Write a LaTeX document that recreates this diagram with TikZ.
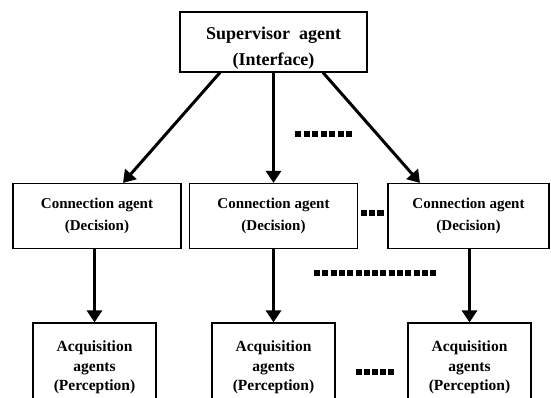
\documentclass[tikz,border=0pt]{standalone}
\usepackage{fontspec}
\setmainfont{Liberation Serif}
\usetikzlibrary{arrows.meta}
\begin{document}
\begin{tikzpicture}[x=1pt,y=-1pt,
  box/.style={draw,line width=1.1pt,rectangle,inner sep=0pt,align=center},
  connbox/.style={box,minimum width=168pt,minimum height=65pt,
    font=\bfseries\fontsize{15}{22}\selectfont},
  acqbox/.style={box,minimum width=123pt,minimum height=89pt,
    font=\bfseries\fontsize{15.5}{19.5}\selectfont},
  flow/.style={line width=3pt,-{Triangle[length=12pt,width=15pt]}},
  dotrow/.style={line width=5.5pt,dash pattern=on 6pt off 2.5pt}]
\clip (0,0) rectangle (551,397);

% supervisor
\node[box,minimum width=187pt,minimum height=60pt] (sup) at (273.5,42) {};
\node[font=\bfseries\fontsize{18}{26}\selectfont,align=center] (suptext) at (273.5,48)
  {Supervisor\hspace{0.5em}agent\\(Interface)};

% connection agents
\node[connbox] (c1) at (97,216) {Connection agent\\(Decision)};
\node[connbox] (c2) at (273.5,216) {Connection agent\\(Decision)};
\node[connbox,minimum width=161pt] (c3) at (468.5,216) {Connection agent\\(Decision)};

% acquisition agents (boxes run past the lower edge)
\node[acqbox] (a1) at (94.5,367.5) {Acquisition\\agents\\(Perception)};
\node[acqbox] (a2) at (273.5,367.5) {Acquisition\\agents\\(Perception)};
\node[acqbox] (a3) at (469.5,367.5) {Acquisition\\agents\\(Perception)};

% links
\draw[flow] ([xshift=-53.5pt]sup.south) -- ([xshift=26pt]c1.north);
\draw[flow] (sup.south) -- (c2.north);
\draw[flow] ([xshift=49.5pt]sup.south) -- ([xshift=-48.5pt]c3.north);
\draw[flow] (c1.south -| a1.north) -- (a1.north);
\draw[flow] (c2.south -| a2.north) -- (a2.north);
\draw[flow] (c3.south -| a3.north) -- (a3.north);

% ellipsis marks
\draw[dotrow] (295,134) -- (352,134);
\draw[dotrow,dash pattern=on 6pt off 2.3pt] (314,273) -- (436.2,273);
\draw[dotrow,line width=6.5pt,dash pattern=on 6.5pt off 1.8pt] (360.5,213) -- (383.6,213);
\draw[dotrow,dash pattern=on 6pt off 2.2pt] (355.5,372) -- (394.3,372);
\end{tikzpicture}
\end{document}
